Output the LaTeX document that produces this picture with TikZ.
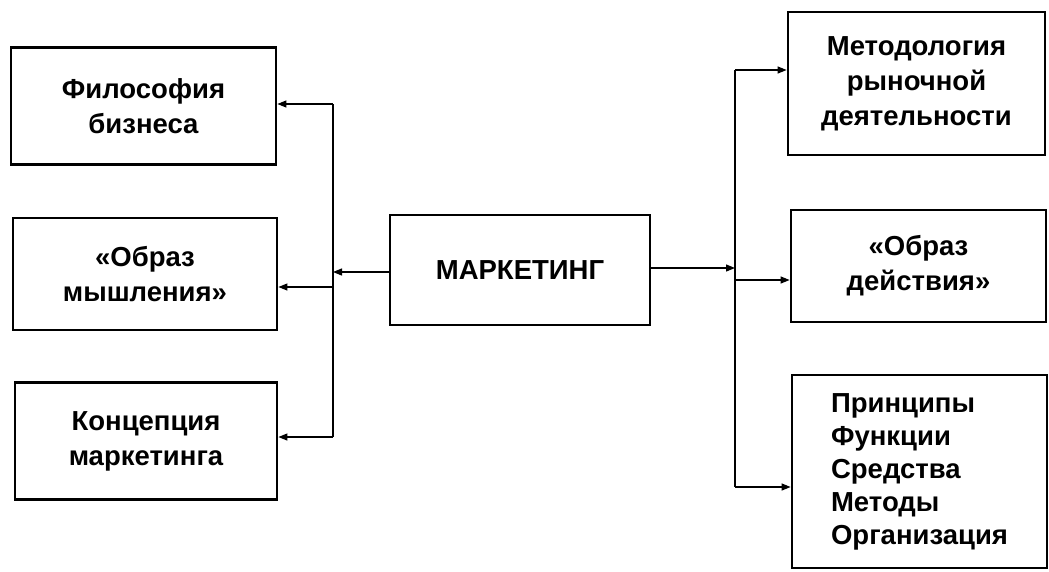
\documentclass[tikz,border=0pt]{standalone}
\usepackage{fontspec}
\setmainfont{Liberation Sans}
\usetikzlibrary{arrows.meta}
\begin{document}
\begin{tikzpicture}[x=1pt,y=-1pt,
  box/.style={draw,line width=2.8pt,inner sep=0pt,align=center,
    font=\fontsize{27.5}{35}\selectfont\bfseries},
  bus/.style={line width=1.2pt},
  arr/.style={line width=1.2pt,-{Triangle[length=9pt,width=7pt]}}]
\useasboundingbox (0,0) rectangle (1049,571);
% left column
\node[box,minimum width=265pt,minimum height=117pt] (b1) at (143.5,106) {Философия\\бизнеса};
\node[box,minimum width=264pt,minimum height=112pt] (b2) at (145,274) {«Образ\\мышления»};
\node[box,minimum width=262pt,minimum height=117pt] (b3) at (146,441) {Концепция\\маркетинга};
% centre
\node[box,minimum width=260pt,minimum height=110pt] (m) at (520,270) {МАРКЕТИНГ};
% right column
\node[box,minimum width=257pt,minimum height=143pt] (r1) at (916.5,83.5) {Методология\\рыночной\\деятельности};
\node[box,minimum width=255pt,minimum height=112pt] (r2) at (918.5,266) {«Образ\\действия»};
\node[box,minimum width=255pt,minimum height=193pt,align=left,
  font=\fontsize{27.5}{33}\selectfont\bfseries] (r3) at (919.5,471.5)
  {Принципы\\Функции\\Средства\\Методы\\Организация};
% left bus
\coordinate (lt) at (333,104);
\coordinate (lm) at (333,272);
\coordinate (l2) at (333,287);
\coordinate (lb) at (333,437);
\draw[bus] (lt) -- (lb);
\draw[arr] (m.west |- lm) -- (lm);
\draw[arr] (lt) -- (lt -| b1.east);
\draw[arr] (l2) -- (l2 -| b2.east);
\draw[arr] (lb) -- (lb -| b3.east);
% right bus
\coordinate (rt) at (735,70);
\coordinate (rm) at (735,268);
\coordinate (r2c) at (735,280);
\coordinate (rb) at (735,487);
\draw[bus] (rt) -- (rb);
\draw[arr] (m.east |- rm) -- (rm);
\draw[arr] (rt) -- (rt -| r1.west);
\draw[arr] (r2c) -- (r2c -| r2.west);
\draw[arr] (rb) -- (rb -| r3.west);
\end{tikzpicture}
\end{document}
